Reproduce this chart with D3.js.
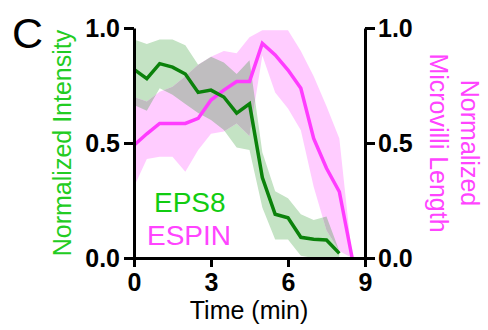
<!DOCTYPE html>
<html><head><meta charset="utf-8">
<script src="https://cdn.jsdelivr.net/npm/d3@7"></script>
<style>
html,body{margin:0;padding:0;background:#fff;}
svg{display:block;font-family:"Liberation Sans",Arial,sans-serif;}
</style></head>
<body>
<svg id="chart" width="488" height="330"></svg>
<script>
// Data
const timesEps8 = [0,0.5,1,1.5,2,2.5,3,3.5,4,4.5,5,5.5,6,6.5,7,7.5,8];
const eps8Mean  = [0.82,0.78,0.845,0.83,0.80,0.72,0.73,0.70,0.63,0.67,0.35,0.19,0.175,0.09,0.082,0.078,0.02];
const eps8Upper = [0.95,0.93,0.95,0.95,0.925,0.84,0.875,0.85,0.80,0.86,0.46,0.29,0.26,0.19,0.165,0.18,0.03];
const eps8Lower = [0.665,0.64,0.738,0.71,0.67,0.63,0.60,0.557,0.48,0.47,0.22,0.08,0.08,0.01,0.0,0.0,0.0];

const timesEspin = [0,0.5,1,1.5,2,2.5,3,3.5,4,4.5,5,5.5,6,6.5,7,7.5,8,8.5];
const espinMean  = [0.49,0.54,0.585,0.585,0.585,0.607,0.687,0.73,0.767,0.767,0.933,0.883,0.817,0.738,0.52,0.39,0.288,0.0];
const espinUpper = [0.70,0.68,0.723,0.745,0.79,0.84,0.875,0.90,0.89,0.96,0.99,0.99,0.99,0.90,0.79,0.66,0.52,0.0];
const espinLower = [0.31,0.43,0.44,0.44,0.375,0.47,0.54,0.55,0.585,0.53,0.88,0.72,0.65,0.555,0.31,0.12,0.03,0.0];

const xTicks = [0,3,6,9];
const yTicks = [0,0.5,1.0];
const seriesNames = ["EPS8","ESPIN"];

const svg = d3.select("#chart");
const x = d3.scaleLinear().domain([0,9]).range([134,365]);
const y = d3.scaleLinear().domain([0,1]).range([258,28]);

const area = d3.area().x(d=>x(d.t)).y0(d=>y(d.lo)).y1(d=>y(d.hi));
const line = d3.line().x(d=>x(d.t)).y(d=>y(d.v));

const eps8 = timesEps8.map((t,i)=>({t, v:eps8Mean[i], lo:eps8Lower[i], hi:eps8Upper[i]}));
const espin = timesEspin.map((t,i)=>({t, v:espinMean[i], lo:espinLower[i], hi:espinUpper[i]}));

const defs = svg.append("defs");
defs.append("clipPath").attr("id","greenClip").append("path").attr("d", area(eps8));

svg.append("path").attr("d", area(eps8)).attr("fill","#c4e3c4");
svg.append("path").attr("d", area(espin)).attr("fill","#ffccff");
svg.append("path").attr("d", area(espin)).attr("fill","#bfbdbf").attr("clip-path","url(#greenClip)");

svg.append("path").attr("d", line(espin)).attr("fill","none").attr("stroke","#ff3cff").attr("stroke-width",3.5).attr("stroke-linejoin","miter");
svg.append("path").attr("d", line(eps8)).attr("fill","none").attr("stroke","#0b820b").attr("stroke-width",3.5).attr("stroke-linejoin","miter");

function styleAxis(g){
  g.selectAll(".domain").attr("stroke","#000").attr("stroke-width",3);
  g.selectAll(".tick line").attr("stroke","#000").attr("stroke-width",3);
  g.selectAll(".tick text").attr("fill","#000").style("font-size","25px").style("font-weight","bold").style("font-family","'Liberation Sans',Arial,sans-serif");
}

const gx = svg.append("g").attr("transform","translate(0,258)")
  .call(d3.axisBottom(x).tickValues(xTicks).tickSize(9).tickSizeOuter(0).tickPadding(6).tickFormat(d3.format("d")));
styleAxis(gx);

const gl = svg.append("g").attr("transform","translate(134,0)")
  .call(d3.axisLeft(y).tickValues(yTicks).tickSize(10).tickSizeOuter(0).tickPadding(4).tickFormat(d3.format(".1f")));
styleAxis(gl);

const gr = svg.append("g").attr("transform","translate(365,0)")
  .call(d3.axisRight(y).tickValues(yTicks).tickSize(10).tickSizeOuter(0).tickPadding(3).tickFormat(d3.format(".1f")));
styleAxis(gr);

// Titles
svg.append("text").attr("x",249).attr("y",319).attr("text-anchor","middle")
  .style("font-size","25px").attr("fill","#000").text("Time (min)");

svg.append("text").attr("transform","translate(71,143) rotate(-90)").attr("text-anchor","middle")
  .style("font-size","25px").attr("fill","#22cc22").text("Normalized Intensity");

svg.append("text").attr("transform","translate(461,143) rotate(90)").attr("text-anchor","middle")
  .style("font-size","25px").attr("fill","#ff44ff").text("Normalized");
svg.append("text").attr("transform","translate(430,143) rotate(90)").attr("text-anchor","middle")
  .style("font-size","25px").attr("fill","#ff44ff").text("Microvilli Length");

// Legend
svg.append("text").attr("x",154).attr("y",212).style("font-size","28px").attr("fill","#11cc11").text(seriesNames[0]);
svg.append("text").attr("x",147).attr("y",245).style("font-size","28px").attr("fill","#ff44ff").text(seriesNames[1]);

// Panel letter
svg.append("text").attr("x",12).attr("y",48).style("font-size","43px").attr("fill","#000").text("C");
</script>
</body></html>
